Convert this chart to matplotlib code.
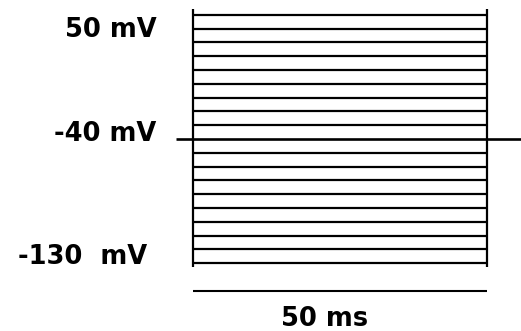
import matplotlib
matplotlib.use("Agg")
import matplotlib.pyplot as plt
import numpy as np

# Voltage-step protocol: holding potential and test steps
holding_mv = -40
step_levels_mv = list(range(50, -131, -10))   # 50 mV down to -130 mV in 10 mV steps
step_start_ms = 0
step_end_ms = 50
scale_bar_ms = 50

level_labels = ["50 mV", "-40 mV", "-130  mV"]
time_label = "50 ms"

W, H, DPI = 521, 331, 100
fig = plt.figure(figsize=(W / DPI, H / DPI), dpi=DPI)
ax = fig.add_axes([0, 0, 1, 1])

# pixel <-> data mapping for the drawing area
px_per_ms = 5.88
px_per_mv = 1.38
x0_px, y50_px = 193.0, 14.7
ax.set_xlim(-x0_px / px_per_ms, (W - x0_px) / px_per_ms)
ax.set_ylim(50 - (H - y50_px) / px_per_mv, 50 + y50_px / px_per_mv)
ax.axis("off")

def px(xp, yp):
    return (xp - x0_px) / px_per_ms, 50 - (yp - y50_px) / px_per_mv

# step traces
for v in step_levels_mv:
    if v == holding_mv:
        continue
    ax.plot([step_start_ms, step_end_ms], [v, v], color="black", lw=1.6,
            solid_capstyle="butt")

# holding line running through the whole sweep
hx0, _ = px(176, 0)
hx1, _ = px(521, 0)
ax.plot([hx0, hx1], [holding_mv, holding_mv], color="black", lw=1.9,
        solid_capstyle="butt")

# step edges
top_v = max(step_levels_mv) + 4
bot_v = min(step_levels_mv) - 3
for t in (step_start_ms, step_end_ms):
    ax.plot([t, t], [bot_v, top_v], color="black", lw=1.6, solid_capstyle="butt")

# time scale bar
_, bar_v = px(0, 291)
ax.plot([step_start_ms, step_start_ms + scale_bar_ms], [bar_v, bar_v],
        color="black", lw=1.5, solid_capstyle="butt")

font = dict(family="DejaVu Sans", fontweight="bold", fontsize=18.5, color="black")
label_pos = [(157, 27), (156, 131), (147, 254)]
for text, (xp, yp) in zip(level_labels, label_pos):
    x, y = px(xp, yp)
    ax.text(x, y, text, ha="right", va="center_baseline", **font)

x, y = px(325, 316)
ax.text(x, y, time_label, ha="center", va="center_baseline", **font)

fig.savefig("out.png", dpi=DPI)
